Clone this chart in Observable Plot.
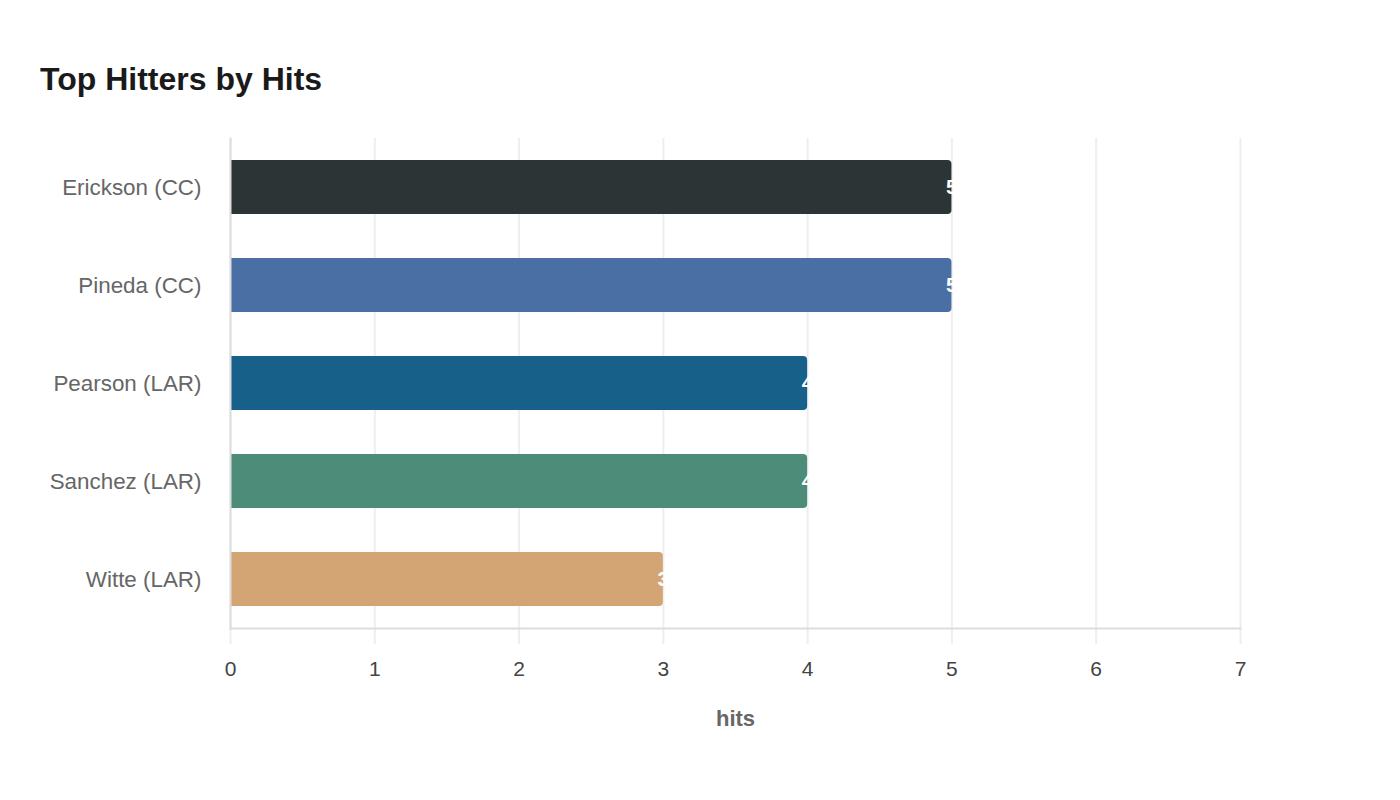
<!DOCTYPE html>
<html>
<head>
<meta charset="utf-8">
<script src="https://cdn.jsdelivr.net/npm/d3@7"></script>
<script src="https://cdn.jsdelivr.net/npm/@observablehq/plot@0.6"></script>
<style>
  html, body { margin: 0; padding: 0; background: #fff; }
  body { width: 1400px; height: 800px; font-family: "Liberation Sans", Arial, sans-serif; }
  #title { margin: 0; padding: 64px 0 0 40px; font-size: 32px; line-height: 31px; font-weight: bold; color: #1a1a1a; height: 36px; }
  #chart svg { display: block; }
</style>
</head>
<body>
<h1 id="title">Top Hitters by Hits</h1>
<div id="chart"></div>
<script>
const players = ["Erickson (CC)", "Pineda (CC)", "Pearson (LAR)", "Sanchez (LAR)", "Witte (LAR)"];
const hits = [5, 5, 4, 4, 3];
const colors = ["#2d3436", "#4a6fa5", "#17608a", "#4e8c7a", "#d4a574"];
const xTicks = [0, 1, 2, 3, 4, 5, 6, 7];

const data = players.map((p, i) => ({name: p, hits: hits[i], color: colors[i]}));

const chart = Plot.plot({
  width: 1400,
  height: 690,
  marginTop: 38,
  marginBottom: 162,
  marginLeft: 230,
  marginRight: 160,
  style: {fontFamily: "'Liberation Sans', Arial, sans-serif", background: "#fff"},
  x: {domain: [0, 7], ticks: xTicks},
  y: {domain: players, padding: 0},
  color: {domain: players, range: colors},
  marks: [
    Plot.gridX(xTicks, {stroke: "#eeeeee", strokeOpacity: 1, strokeWidth: 2}),
    Plot.axisX(xTicks, {
      tickSize: 16, stroke: "#eeeeee", strokeOpacity: 1, strokeWidth: 2,
      tickPadding: 17, fontSize: 21, color: "#444", tickFormat: d3.format("d"),
      label: null
    }),
    Plot.text(["hits"], {frameAnchor: "bottom", dy: 97, text: d => d, fontSize: 22, fontWeight: "bold", fill: "#666", lineAnchor: "bottom"}),
    Plot.axisY({tickSize: 0, tickPadding: 29, fontSize: 22.4, color: "#666", label: null}),
    Plot.barX(data, {x: "hits", y: "name", fill: "name", insetTop: 22, insetBottom: 22, rx: 4}),
    Plot.barX(data, {x1: 0, x2: d => d.hits / 2, y: "name", fill: "name", insetTop: 22, insetBottom: 22}),
    Plot.frame({anchor: "left", stroke: "#dddddd", strokeWidth: 2}),
    Plot.frame({anchor: "bottom", stroke: "#dddddd", strokeWidth: 2}),
    Plot.text(data, {x: "hits", y: "name", text: d => String(d.hits), fill: "white", fontSize: 21, fontWeight: "bold", textAnchor: "middle"})
  ]
});
document.getElementById("chart").appendChild(chart);
</script>
</body>
</html>
